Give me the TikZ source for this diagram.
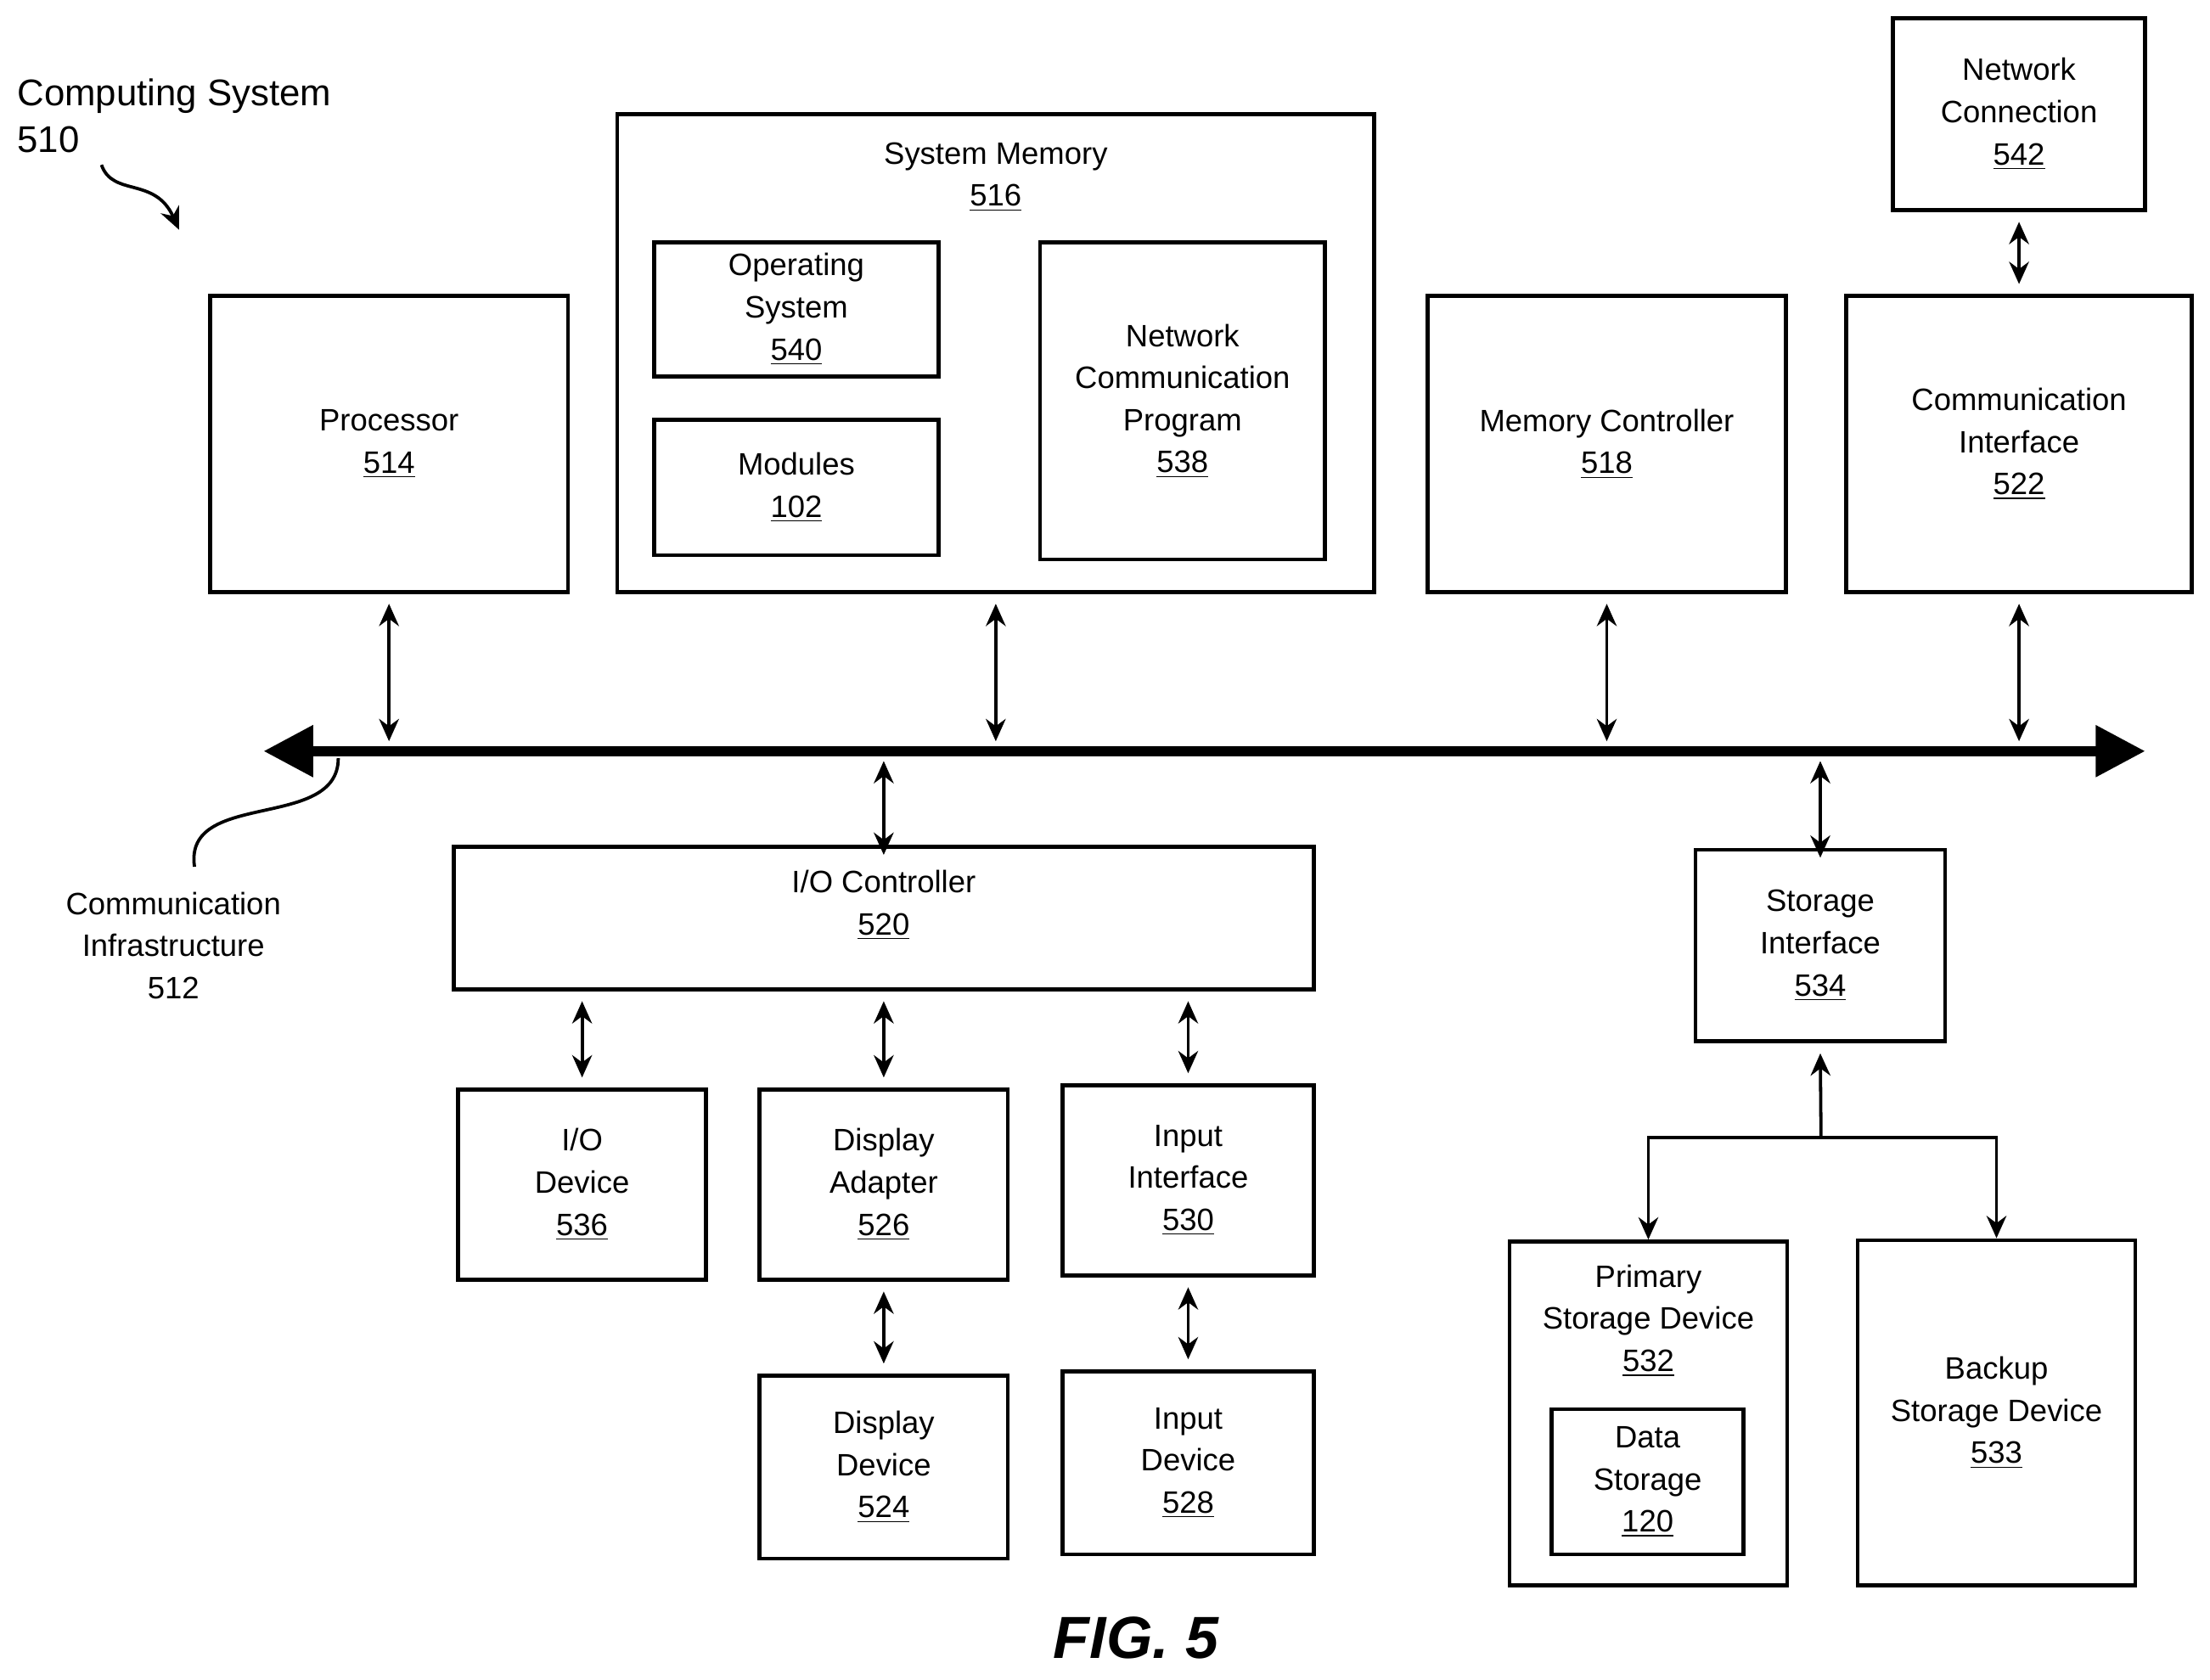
\documentclass[tikz,border=0pt]{standalone}
\usepackage{fontspec}
\setmainfont{Liberation Sans}
\usetikzlibrary{arrows.meta,positioning}
\tikzset{
  box/.style={draw, line width=1.6pt, inner sep=0pt, align=center},
  lbl/.style={align=center, inner sep=0pt},
  link/.style={line width=1.3pt, {Stealth[length=9pt,width=8pt]}-{Stealth[length=9pt,width=8pt]}},
  tolink/.style={line width=1.3pt, -{Stealth[length=9pt,width=8pt]}},
}
% box from corner (x1,y1) to (x2,y2)
\newcommand{\bx}[6]{\node[box, minimum width={(#4-#2)*0.02cm}, minimum height={(#5-#3)*0.02cm}] (#1) at ({(#2+#4)/2},{(#3+#5)/2}) {#6};}
\begin{document}
\begin{tikzpicture}[x=0.02cm, y=-0.02cm, font=\fontsize{12.5}{17}\selectfont]
  \useasboundingbox (0,0) rectangle (1568,1192);
  % Boxes along the top
  \bx{proc}{149}{210}{403}{420}{Processor\\\underline{514}}
  \bx{sysmem}{438}{81}{975}{420}{}
  \node[lbl, below=12pt of sysmem.north] (sysmemlbl) {System Memory\\\underline{516}};
  \bx{os}{464}{172}{666}{267}{Operating\\System\\\underline{540}}
  \bx{mod}{464}{298}{666}{394}{Modules\\\underline{102}}
  \bx{ncp}{738}{172}{940}{397}{Network\\Communication\\Program\\\underline{538}}
  \bx{memc}{1013}{210}{1267}{420}{Memory Controller\\\underline{518}}
  \bx{comm}{1310}{210}{1555}{420}{Communication\\Interface\\\underline{522}}
  \bx{netc}{1343}{13}{1522}{149}{Network\\Connection\\\underline{542}}
  % Bus
  \coordinate (busL) at (187,533);
  \coordinate (busR) at (1522,533);
  \draw[line width=4pt, {Triangle[length=20pt,width=20pt]}-{Triangle[length=20pt,width=20pt]}] (busL) -- (busR);
  % Boxes below the bus
  \bx{ioc}{322}{601}{932}{702}{}
  \node[lbl, below=10pt of ioc.north] (ioclbl) {I/O Controller\\\underline{520}};
  \bx{stor}{1203}{603}{1380}{739}{Storage\\Interface\\\underline{534}}
  \bx{iod}{325}{773}{501}{908}{I/O\\Device\\\underline{536}}
  \bx{dispa}{539}{773}{715}{908}{Display\\Adapter\\\underline{526}}
  \bx{inif}{754}{770}{932}{905}{Input\\Interface\\\underline{530}}
  \bx{dispd}{539}{976}{715}{1106}{Display\\Device\\\underline{524}}
  \bx{indev}{754}{973}{932}{1103}{Input\\Device\\\underline{528}}
  \bx{prim}{1071}{881}{1268}{1125}{}
  \node[lbl, below=10pt of prim.north] (primlbl) {Primary\\Storage Device\\\underline{532}};
  \bx{data}{1101}{1000}{1237}{1103}{Data\\Storage\\\underline{120}}
  \bx{back}{1318}{880}{1515}{1125}{Backup\\Storage Device\\\underline{533}}
  % Links to the bus
  \foreach \n in {proc, sysmem, memc, comm}
    \draw[link] ([yshift=-4pt]\n.south) -- ([yshift=4pt]\n.south |- busL);
  \draw[link] ([yshift=-4pt]ioc.north) -- ([yshift=-4pt]ioc.north |- busL);
  \draw[link] ([yshift=-4pt]stor.north) -- ([yshift=-4pt]stor.north |- busL);
  \draw[link] ([yshift=-4pt]netc.south) -- ([yshift=4pt]comm.north);
  % I/O controller links
  \foreach \n in {iod, dispa, inif}
    \draw[link] (\n.north |- ioc.south) ++(0,-4pt) -- ([yshift=4pt]\n.north);
  \draw[link] ([yshift=-4pt]dispa.south) -- ([yshift=4pt]dispd.north);
  \draw[link] ([yshift=-4pt]inif.south) -- ([yshift=4pt]indev.north);
  % Storage tree
  \coordinate (split) at (1292,807);
  \draw[line width=1.3pt, {Stealth[length=9pt,width=8pt]}-] ([yshift=-4pt]stor.south) -- (split);
  \draw[tolink] (split) -| (prim.north);
  \draw[tolink] (split) -| (back.north);
  % Labels
  \node[anchor=west, align=left, inner sep=0pt, font=\fontsize{15}{19}\selectfont] (cslbl) at (12,82) {Computing System\\510};
  \draw[line width=1.3pt, -{Stealth[length=9pt,width=8pt]}] (72,117) .. controls (80,140) and (110,125) .. (127,163);
  \node[lbl] (cilbl) at (123,671) {Communication\\Infrastructure\\512};
  \draw[line width=1.3pt] (138,615) .. controls (130,560) and (240,590) .. (240,538);
  \node[lbl, font=\fontsize{24}{28}\selectfont\bfseries\itshape] (fig) at (806,1162) {FIG. 5};
\end{tikzpicture}
\end{document}
